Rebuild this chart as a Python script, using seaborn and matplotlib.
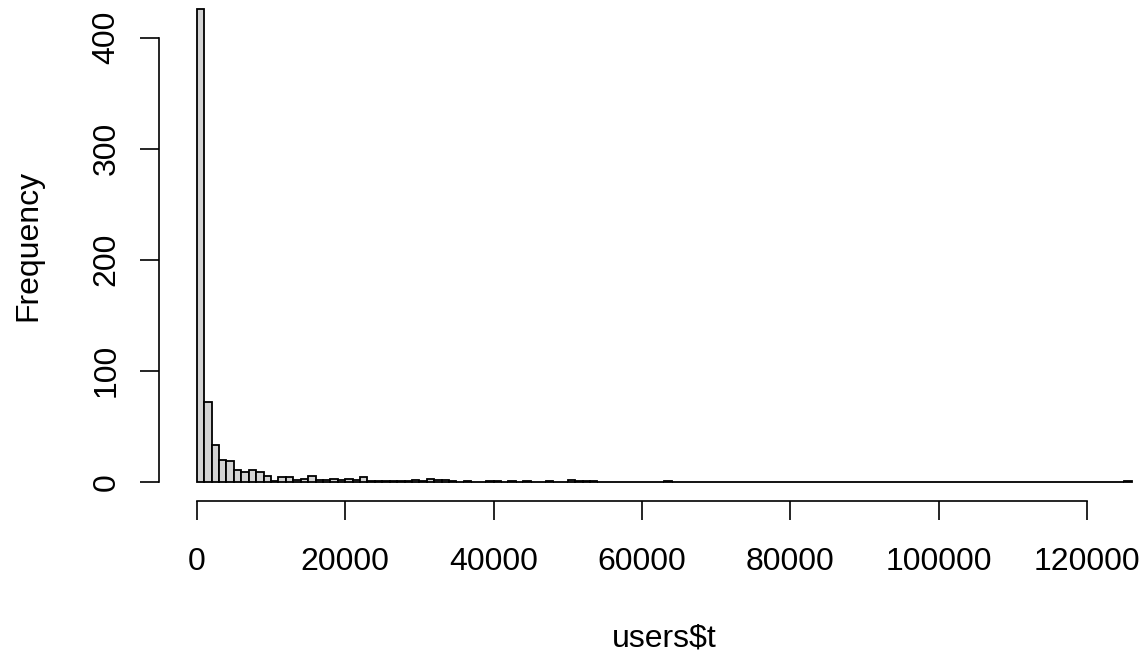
import matplotlib.pyplot as plt
import numpy as np
import pandas as pd
import seaborn as sns

# histogram of users$t, bins of 1000 (counts)
bin_width = 1000
counts = [426, 72, 33, 20, 19, 11, 9, 11, 9, 5,
          1, 4, 4, 2, 3, 5, 2, 2, 3, 2,
          3, 2, 4, 1, 1, 1, 1, 1, 1, 2,
          1, 3, 2, 2, 1, 0, 1, 0, 0, 1,
          1, 0, 1, 0, 1, 0, 0, 1, 0, 0,
          2, 1, 1, 1, 0, 0, 0, 0, 0, 0,
          0, 0, 0, 1] + [0] * 61 + [1]
x_ticks = [0, 20000, 40000, 60000, 80000, 100000, 120000]
y_ticks = [0, 100, 200, 300, 400]

n_bins = len(counts)
df = pd.DataFrame({'t': np.arange(n_bins) * bin_width + bin_width / 2,
                   'n': counts})

sns.set_style('white')
plt.rcParams['font.family'] = ['Liberation Sans', 'DejaVu Sans']
plt.rcParams['text.color'] = 'black'

W, H = 1145, 652
fig = plt.figure(figsize=(W / 100, H / 100), dpi=100)
ax = fig.add_axes([159.4 / W, 1 - 500.8 / H, (W - 159.4) / W, 500.8 / H])

sns.histplot(data=df, x='t', weights='n', binwidth=bin_width,
             binrange=(0, n_bins * bin_width), color='#D3D3D3',
             edgecolor='black', linewidth=1.3, alpha=1, ax=ax)

ax.set_xlim(-5040, 127800)
ax.set_ylim(-17.04, 433.8)
for side in ['top', 'right']:
    ax.spines[side].set_visible(False)
ax.spines['left'].set_bounds(0, 400)
ax.spines['bottom'].set_bounds(0, 120000)
for side in ['left', 'bottom']:
    ax.spines[side].set_linewidth(1.2)
    ax.spines[side].set_color('black')

ax.set_xticks(x_ticks)
ax.set_xticklabels([str(v) for v in x_ticks])
ax.set_yticks(y_ticks)
ax.set_yticklabels([str(v) for v in y_ticks], rotation=90, va='center')
ax.tick_params(axis='both', length=14, width=1.2, labelsize=23, colors='black',
               left=True, bottom=True)
ax.tick_params(axis='x', pad=19)
ax.tick_params(axis='y', pad=13.3)

ax.set_xlabel('')
ax.set_ylabel('')
fig.text(664.7 / W, 5.3 / H, 'users$t', ha='center', va='baseline',
         fontsize=23, color='black')
fig.text(28.5 / W, 1 - 245.5 / H, 'Frequency', ha='center', va='center',
         rotation=90, fontsize=23, color='black')

fig.savefig('out.png', dpi=100)
